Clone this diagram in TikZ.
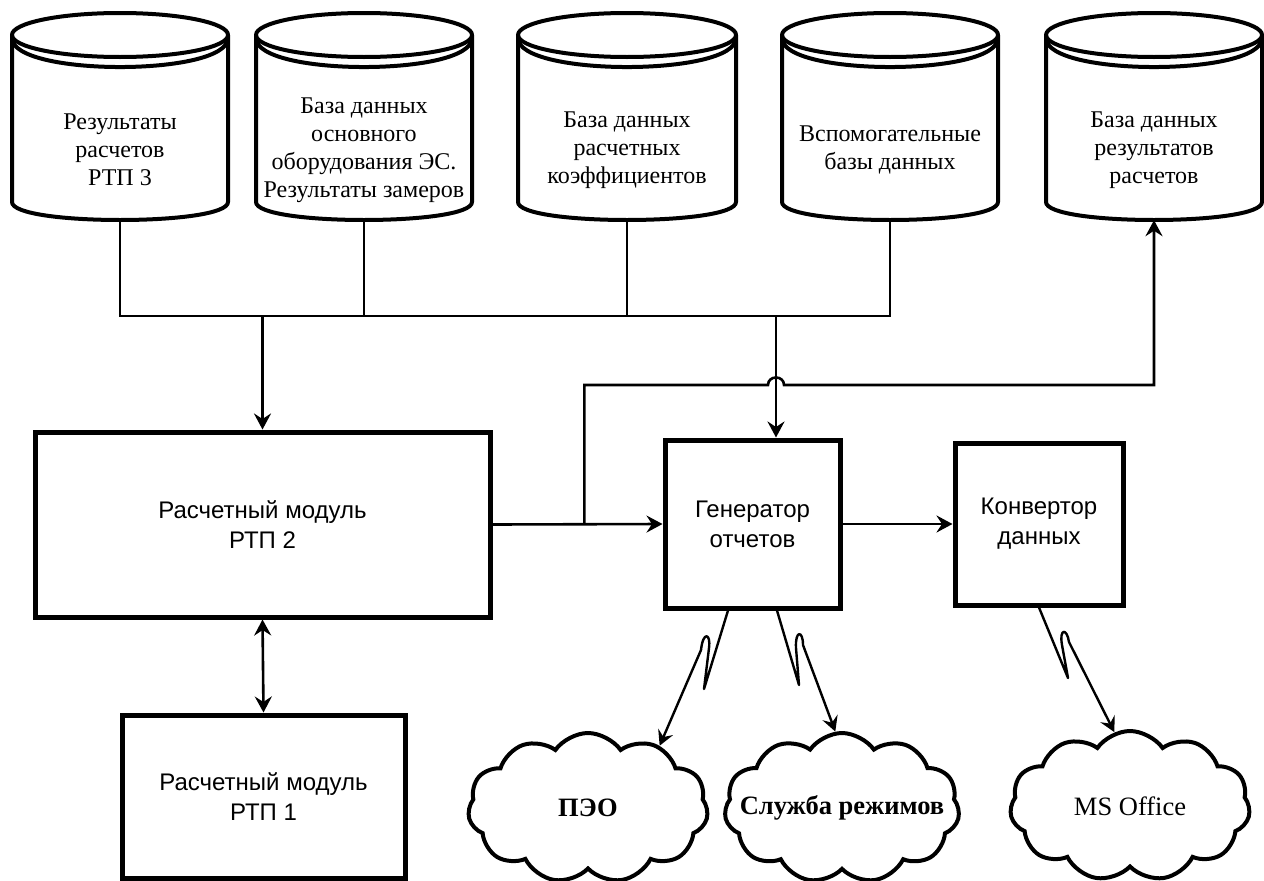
\documentclass[tikz,border=0pt]{standalone}
\usepackage{fontspec}
\setmainfont{Liberation Serif}
\newfontfamily\arialf{Liberation Sans}
\usetikzlibrary{arrows.meta,shapes.symbols,calc}
\newcommand\dbcyl[4]{%
  \pgfmathsetmacro\cxx{(#2+#3)/2}%
  \pgfmathsetmacro\rxx{(#3-#2)/2}%
  \draw[cyl] (#2,35) -- (#2,202) .. controls (#2,226) and (#3,226) .. (#3,202) -- (#3,35);
  \draw[cyl] (\cxx,35) ellipse [x radius=\rxx, y radius=22];
  \draw[cyl] (#2,38) .. controls (#2,76.7) and (#3,76.7) .. (#3,38);
  \node[cylbox, minimum width=\rxx*2pt] (#1) at (\cxx,116.5) {};
  \node[cyltext] (#1t) at (\cxx,150) {#4};
}
\begin{document}
\begin{tikzpicture}[x=1pt,y=-1pt,
  cyl/.style={line width=4pt, line join=round},
  cylbox/.style={inner sep=0, minimum height=207pt},
  cyltext/.style={align=center, font=\fontsize{24}{28}\selectfont, inner sep=0},
  blk/.style={draw, line width=5pt, font=\arialf\fontsize{24}{30}\selectfont, align=center, inner sep=0},
  conn/.style={line width=2.6pt},
  tip/.tip={Stealth[length=16pt,width=17pt,inset=5.5pt]},
  arr/.style={conn, -tip},
  darr/.style={conn, tip-tip},
  bolt/.style={line width=2.4pt, line join=round, -{Stealth[length=15pt,width=16pt,inset=5.5pt]}},
  cl/.style={cloud, cloud puffs=11, cloud puff arc=110, draw, line width=4pt, inner sep=0,
    minimum width=240pt, minimum height=150pt},
  cltext/.style={font=\fontsize{26.5}{30}\selectfont}
]
\clip (0,0) rectangle (1264,881);

\dbcyl{c1}{12}{228}{Результаты\\расчетов\\РТП 3}
\dbcyl{c2}{256}{472}{База данных\\основного\\оборудования ЭС.\\Результаты замеров}
\dbcyl{c3}{518}{736}{База данных\\расчетных\\коэффициентов}
\dbcyl{c4}{782}{998}{Вспомогательные\\базы данных}
\dbcyl{c5}{1046}{1262}{База данных\\результатов\\расчетов}

\node[blk, minimum width=455pt, minimum height=185pt] (rtp2) at (262.5,524.5) {Расчетный модуль\\РТП 2};
\node[blk, minimum width=175pt, minimum height=168pt] (gen) at (752.5,524) {Генератор\\отчетов};
\node[blk, minimum width=168pt, minimum height=162pt] (conv) at (1039,524) {Конвертор\\данных};
\node[blk, minimum width=283pt, minimum height=163pt] (rtp1) at (263.5,796.5) {Расчетный модуль\\РТП 1};

\node[cl, label={[cltext]center:\bfseries ПЭО}] (peo) at (588,808) {};
\node[cl, minimum width=235pt, label={[cltext]center:\bfseries Служба режимов}] (srv) at (842,808) {};
\node[cl, label={[cltext]center:MS Office}] (ms) at (1130,806) {};

% bus
\coordinate (busL) at (c1.south |- 0,316);
\coordinate (busR) at (c4.south |- 0,316);
\coordinate (drop) at (776,316);
\draw[conn] (c1.south) -- (busL) -- (busR) -- (c4.south);
\draw[conn] (c2.south) -- (c2.south |- busL);
\draw[conn] (c3.south) -- (c3.south |- busL);
\draw[arr] (rtp2.north |- busL) -- (rtp2.north);
\draw[arr] (drop) -- (drop |- gen.north);

% main flow
\draw[arr] (rtp2.east) -- (gen.west);
\draw[arr] (gen.east) -- (conv.west);
\draw[darr] (rtp2.south) -- (rtp1.north);

% feedback to results DB
\coordinate (fb) at ($(rtp2.east)!0.54!(gen.west)$);
\coordinate (hopL) at (768,385);
\coordinate (hopR) at (784,385);
\draw[arr] (fb) -- (fb |- hopL) -- (hopL) .. controls (768,375) and (784,375) .. (hopR) -- (c5.south |- hopL) -- (c5.south);

% lightning links
\draw[bolt] (gen.south -| 728,0) -- (704,689) -- (709,648) .. controls (711,633) and (703,631) .. (701,650) -- (peo.41);
\draw[bolt] (gen.south -| 777,0) -- (799,685) -- (796,648) .. controls (795,630) and (803,630) .. (803,645) -- (srv.95);
\draw[bolt] (conv.south -| 1039,0) -- (1068,678) -- (1062,645) .. controls (1059,628) and (1067,628) .. (1069,642) -- (ms.102);
\end{tikzpicture}
\end{document}
